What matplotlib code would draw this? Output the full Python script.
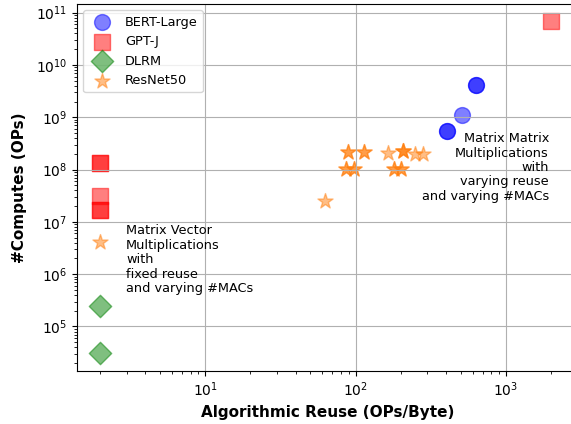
import numpy as np
import matplotlib.pyplot as plt

# Data (x: OPs/Byte, y: OPs)
bert_reuse = [631, 631, 514, 408, 408]
bert_ops = [4.2e9, 4.2e9, 1.1e9, 5.5e8, 5.5e8]

gptj_reuse = [2000, 2, 2, 2, 2, 2]
gptj_ops = [7.0e10, 1.35e8, 1.35e8, 3.1e7, 1.7e7, 1.7e7]

dlrm_reuse = [2, 2]
dlrm_ops = [2.5e5, 3.1e4]

resnet_reuse = [2, 63, 89, 89, 113, 113, 164, 207, 207, 207, 248, 281,
                87, 87, 97, 97, 179, 179, 200, 200]
resnet_ops = [4.1e6, 2.5e7, 2.2e8, 2.2e8, 2.2e8, 2.2e8, 2.05e8, 2.3e8, 2.3e8, 2.3e8, 2.0e8, 2.0e8,
              1.03e8, 1.03e8, 1.03e8, 1.03e8, 1.03e8, 1.03e8, 1.03e8, 1.03e8]

W, H = 571, 424
fig = plt.figure(figsize=(W / 100, H / 100), dpi=100)
ax = fig.add_axes([77 / W, (H - 371) / H, (578 - 77) / W, (371 - 4) / H])

sz = 130
ax.scatter(bert_reuse, bert_ops, s=sz, marker='o', color='blue', alpha=0.5, label='BERT-Large')
ax.scatter(gptj_reuse, gptj_ops, s=sz, marker='s', color='red', alpha=0.5, label='GPT-J')
ax.scatter(dlrm_reuse, dlrm_ops, s=sz, marker='D', color='green', alpha=0.5, label='DLRM')
ax.scatter(resnet_reuse, resnet_ops, s=sz, marker='*', color='tab:orange', alpha=0.5, label='ResNet50')

ax.set_xscale('log')
ax.set_yscale('log')
ax.set_xlim(10 ** 0.147, 10 ** 3.48)
ax.set_ylim(10 ** 4.149, 10 ** 11.166)
ax.grid(True)

# annotations placed in figure pixels (origin bottom-left)
ax.annotate('Matrix Matrix\nMultiplications\nwith\nvarying reuse\nand varying #MACs',
            xy=(549, H - 132), xycoords='figure pixels',
            ha='right', va='top', fontsize=9.3, multialignment='right', linespacing=1.15)
ax.annotate('Matrix Vector\nMultiplications\nwith\nfixed reuse\nand varying #MACs',
            xy=(126, H - 224), xycoords='figure pixels',
            ha='left', va='top', fontsize=9.3, linespacing=1.15)

ax.set_xlabel('Algorithmic Reuse (OPs/Byte)', fontsize=11, fontweight='bold')
ax.set_ylabel('#Computes (OPs)', fontsize=11, fontweight='bold', labelpad=6)
ax.legend(loc='upper left', fontsize=9.3)

fig.savefig('out.png', dpi=100)
